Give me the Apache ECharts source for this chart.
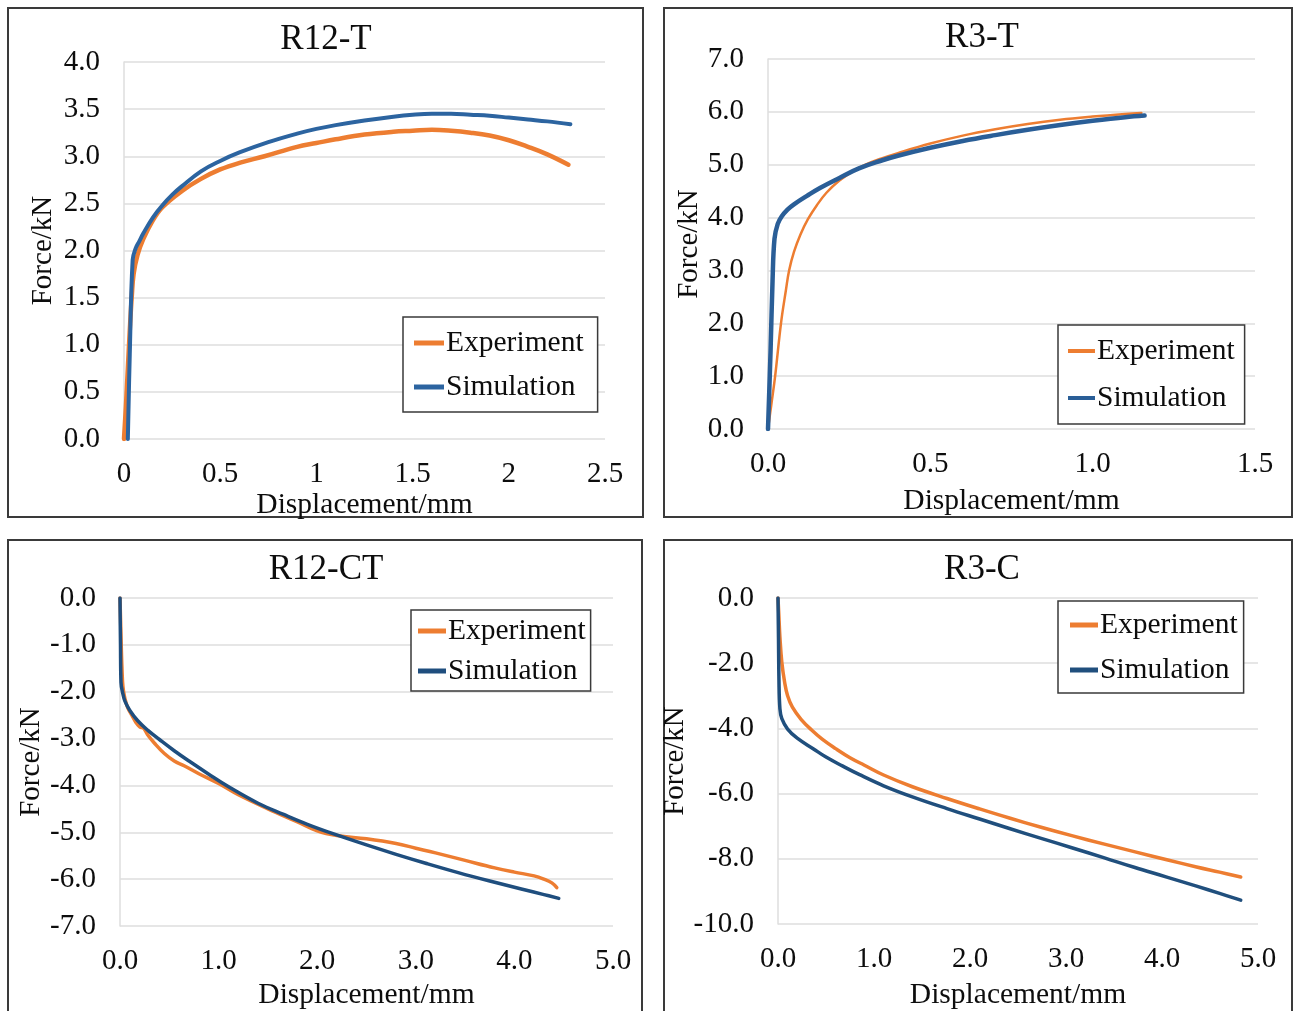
<!DOCTYPE html>
<html>
<head>
<meta charset="utf-8">
<script src="https://cdn.jsdelivr.net/npm/echarts@6/dist/echarts.min.js"></script>
<style>
  html, body { margin: 0; padding: 0; background: #fff; }
  #chart { width: 1299px; height: 1011px; }
</style>
</head>
<body>
<div id="chart"></div>
<script>
// ---- R12-T (tension, R12 notch) ----
const r12tExpX = [0, 0.01, 0.02, 0.03, 0.04, 0.05, 0.07, 0.1, 0.15, 0.2, 0.3, 0.4, 0.5, 0.6, 0.73, 0.9, 1.0, 1.1, 1.25, 1.4, 1.5, 1.6, 1.7, 1.8, 1.9, 2.0, 2.1, 2.2, 2.31];
const r12tExpY = [0, 0.35, 0.75, 1.15, 1.5, 1.75, 1.95, 2.12, 2.32, 2.46, 2.63, 2.76, 2.86, 2.93, 3.0, 3.1, 3.14, 3.18, 3.23, 3.26, 3.27, 3.28, 3.27, 3.25, 3.22, 3.17, 3.1, 3.02, 2.91];
const r12tSimX = [0.02, 0.03, 0.045, 0.06, 0.08, 0.1, 0.15, 0.2, 0.25, 0.3, 0.4, 0.5, 0.6, 0.75, 0.9, 1.0, 1.1, 1.25, 1.4, 1.5, 1.6, 1.7, 1.8, 1.9, 2.0, 2.1, 2.2, 2.32];
const r12tSimY = [0, 0.9, 1.9, 2.02, 2.1, 2.18, 2.35, 2.48, 2.59, 2.68, 2.84, 2.95, 3.04, 3.15, 3.24, 3.29, 3.33, 3.38, 3.42, 3.44, 3.45, 3.45, 3.44, 3.43, 3.41, 3.39, 3.37, 3.34];
const r12tXTicks = ['0', '0.5', '1', '1.5', '2', '2.5'];
const r12tYTicks = ['0.0', '0.5', '1.0', '1.5', '2.0', '2.5', '3.0', '3.5', '4.0'];

// ---- R3-T (tension, R3 notch) ----
const r3tExpX = [0, 0.01, 0.022, 0.04, 0.055, 0.065, 0.08, 0.1, 0.123, 0.15, 0.18, 0.22, 0.26, 0.3, 0.35, 0.4, 0.5, 0.6, 0.7, 0.8, 0.9, 1.0, 1.1, 1.15];
const r3tExpY = [0, 0.45, 1.0, 2.0, 2.62, 3.0, 3.35, 3.68, 3.97, 4.23, 4.47, 4.7, 4.87, 5.0, 5.12, 5.22, 5.4, 5.55, 5.67, 5.77, 5.85, 5.91, 5.96, 5.98];
const r3tSimX = [0, 0.008, 0.014, 0.02, 0.03, 0.042, 0.06, 0.08, 0.12, 0.16, 0.22, 0.28, 0.35, 0.4, 0.5, 0.6, 0.7, 0.8, 0.9, 1.0, 1.1, 1.16];
const r3tSimY = [0, 1.5, 2.8, 3.6, 3.88, 4.02, 4.15, 4.25, 4.41, 4.56, 4.75, 4.93, 5.08, 5.17, 5.32, 5.45, 5.56, 5.66, 5.75, 5.83, 5.9, 5.93];
const r3tXTicks = ['0.0', '0.5', '1.0', '1.5'];
const r3tYTicks = ['0.0', '1.0', '2.0', '3.0', '4.0', '5.0', '6.0', '7.0'];

// ---- R12-CT (compression-tension, R12 notch) ----
const r12ctExpX = [0, 0.01, 0.02, 0.03, 0.05, 0.08, 0.12, 0.16, 0.2, 0.24, 0.28, 0.35, 0.45, 0.55, 0.65, 0.8, 1.0, 1.2, 1.5, 1.8, 2.0, 2.2, 2.5, 2.8, 3.0, 3.2, 3.5, 3.8, 4.0, 4.2, 4.3, 4.38, 4.43];
const r12ctExpY = [0, -0.8, -1.5, -1.9, -2.15, -2.35, -2.5, -2.65, -2.75, -2.78, -2.92, -3.1, -3.32, -3.48, -3.58, -3.75, -3.96, -4.2, -4.5, -4.78, -4.97, -5.07, -5.14, -5.24, -5.34, -5.44, -5.6, -5.76, -5.85, -5.93, -6.0, -6.08, -6.18];
const r12ctSimX = [0, 0.005, 0.01, 0.03, 0.05, 0.1, 0.18, 0.28, 0.4, 0.55, 0.7, 0.9, 1.11, 1.4, 1.66, 1.9, 2.16, 2.5, 2.8, 3.1, 3.43, 3.75, 4.07, 4.3, 4.45];
const r12ctSimY = [0, -1.0, -1.8, -2.05, -2.2, -2.4, -2.62, -2.82, -3.02, -3.26, -3.48, -3.76, -4.04, -4.38, -4.62, -4.83, -5.03, -5.27, -5.47, -5.66, -5.86, -6.04, -6.21, -6.33, -6.41];
const r12ctXTicks = ['0.0', '1.0', '2.0', '3.0', '4.0', '5.0'];
const r12ctYTicks = ['-7.0', '-6.0', '-5.0', '-4.0', '-3.0', '-2.0', '-1.0', '0.0'];

// ---- R3-C (compression, R3 notch) ----
const r3cExpX = [0, 0.01, 0.02, 0.04, 0.07, 0.1, 0.15, 0.24, 0.35, 0.46, 0.6, 0.75, 0.9, 1.1, 1.4, 1.76, 2.1, 2.41, 2.75, 3.06, 3.4, 3.71, 4.05, 4.36, 4.6, 4.82];
const r3cExpY = [0, -0.6, -1.2, -1.98, -2.6, -3.0, -3.35, -3.72, -4.05, -4.33, -4.62, -4.9, -5.13, -5.43, -5.79, -6.15, -6.47, -6.75, -7.04, -7.29, -7.55, -7.78, -8.03, -8.25, -8.41, -8.56];
const r3cSimX = [0, 0.005, 0.01, 0.02, 0.04, 0.1, 0.2, 0.37, 0.5, 0.67, 0.85, 1.1, 1.4, 1.76, 2.1, 2.41, 2.75, 3.06, 3.4, 3.71, 4.05, 4.36, 4.6, 4.82];
const r3cSimY = [0, -1.2, -2.5, -3.4, -3.7, -4.02, -4.3, -4.63, -4.88, -5.15, -5.42, -5.76, -6.1, -6.46, -6.78, -7.07, -7.38, -7.66, -7.97, -8.26, -8.56, -8.84, -9.06, -9.27];
const r3cXTicks = ['0.0', '1.0', '2.0', '3.0', '4.0', '5.0'];
const r3cYTicks = ['-10.0', '-8.0', '-6.0', '-4.0', '-2.0', '0.0'];

const FONT = 'Liberation Serif';
const ORANGE = '#ED7D31';
const TEXT = '#0d0d0d';
const GRID_LINE = '#dedede';

const pairs = (xs, ys) => xs.map((x, i) => [x, ys[i]]);
const tickFmt = (labels, min, step) => v => labels[Math.round((v - min) / step)] ?? '';

// panel layout: plot rectangle in page pixels + axis options
const panels = [
  { title: 'R12-T', tx: 326, ty: 40, grid: { left: 124, right: 694, top: 62, bottom: 572 },
    x: { min: 0, max: 2.5, step: 0.5, labels: r12tXTicks, nameGap: 41 },
    y: { min: 0, max: 4, step: 0.5, labels: r12tYTicks, nameGap: 66 },
    exp: pairs(r12tExpX, r12tExpY), sim: pairs(r12tSimX, r12tSimY),
    expW: 4.5, simW: 4, blue: '#2C64A0',
    legend: { left: 403, top: 317, padding: [11, 14, 10, 11], itemGap: 14, itemWidth: 30 } },
  { title: 'R3-T', tx: 982, ty: 38, grid: { left: 768, right: 44, top: 59, bottom: 582 },
    x: { min: 0, max: 1.5, step: 0.5, labels: r3tXTicks, nameGap: 57 },
    y: { min: 0, max: 7, step: 1, labels: r3tYTicks, nameGap: 64 },
    exp: pairs(r3tExpX, r3tExpY), sim: pairs(r3tSimX, r3tSimY),
    expW: 2.5, simW: 4.5, blue: '#2A5E97',
    legend: { left: 1058, top: 325, padding: [11, 10, 11, 10], itemGap: 17, itemWidth: 27 } },
  { title: 'R12-CT', tx: 326, ty: 570, grid: { left: 120, right: 686, top: 598, bottom: 83 },
    x: { min: 0, max: 5, step: 1, labels: r12ctXTicks, nameGap: 54 },
    y: { min: -7, max: 0, step: 1, labels: r12ctYTicks, nameGap: 70 },
    exp: pairs(r12ctExpX, r12ctExpY), sim: pairs(r12ctSimX, r12ctSimY),
    expW: 3.5, simW: 3.5, blue: '#1F4E7E',
    legend: { left: 411, top: 610, padding: [6, 5, 5, 7], itemGap: 10, itemWidth: 28 } },
  { title: 'R3-C', tx: 982, ty: 570, grid: { left: 778, right: 41, top: 598, bottom: 85 },
    x: { min: 0, max: 5, step: 1, labels: r3cXTicks, nameGap: 56 },
    y: { min: -10, max: 0, step: 2, labels: r3cYTicks, nameGap: 72 },
    exp: pairs(r3cExpX, r3cExpY), sim: pairs(r3cSimX, r3cSimY),
    expW: 3.5, simW: 3.5, blue: '#204F7D',
    legend: { left: 1058, top: 601, padding: [9, 6, 8, 12], itemGap: 15, itemWidth: 28 } }
];

const grids = [], xAxes = [], yAxes = [], series = [], legends = [], graphics = [];

// panel frames
[[8, 8, 635, 509], [664, 8, 628, 509], [8, 540, 634, 490], [664, 540, 628, 490]].forEach(([x, y, w, h]) => {
  graphics.push({ type: 'rect', shape: { x, y, width: w, height: h },
    style: { fill: 'none', stroke: '#3a3a3a', lineWidth: 2 }, z: 0 });
});

panels.forEach((p, i) => {
  const g = p.grid;
  grids.push({ left: g.left, right: g.right, top: g.top, bottom: g.bottom, containLabel: false });
  xAxes.push({
    type: 'value', gridIndex: i, min: p.x.min, max: p.x.max, interval: p.x.step,
    name: 'Displacement/mm', nameLocation: 'middle', nameGap: p.x.nameGap,
    nameTextStyle: { fontFamily: FONT, fontSize: 29.5, color: TEXT },
    axisLine: { show: false }, axisTick: { show: false }, splitLine: { show: false },
    axisLabel: { fontFamily: FONT, fontSize: 29, color: TEXT, margin: 21,
      formatter: tickFmt(p.x.labels, p.x.min, p.x.step) }
  });
  yAxes.push({
    type: 'value', gridIndex: i, min: p.y.min, max: p.y.max, interval: p.y.step,
    name: 'Force/kN', nameLocation: 'middle', nameGap: p.y.nameGap, nameRotate: 90,
    nameTextStyle: { fontFamily: FONT, fontSize: 29, color: TEXT },
    axisLine: { show: true, onZero: false, lineStyle: { color: GRID_LINE, width: 1.5 } },
    axisTick: { show: false },
    splitLine: { show: true, lineStyle: { color: GRID_LINE, width: 1.5 } },
    axisLabel: { fontFamily: FONT, fontSize: 29, color: TEXT, margin: 24,
      formatter: tickFmt(p.y.labels, p.y.min, p.y.step) }
  });
  const lineOpts = { type: 'line', xAxisIndex: i, yAxisIndex: i, showSymbol: false,
    smooth: 0.4, animation: false };
  series.push(Object.assign({}, lineOpts, { name: 'Experiment', data: p.exp, z: 3,
    lineStyle: { color: ORANGE, width: p.expW, cap: 'round', join: 'round' }, itemStyle: { color: ORANGE } }));
  series.push(Object.assign({}, lineOpts, { name: 'Simulation', data: p.sim, z: 4,
    lineStyle: { color: p.blue, width: p.simW, cap: 'round', join: 'round' }, itemStyle: { color: p.blue } }));
  legends.push({
    orient: 'vertical', left: p.legend.left, top: p.legend.top, padding: p.legend.padding,
    itemGap: p.legend.itemGap, itemWidth: p.legend.itemWidth, itemHeight: i === 1 ? 4 : 5,
    icon: 'rect', selectedMode: false, backgroundColor: '#fff',
    borderColor: '#3a3a3a', borderWidth: 1.5, z: 10,
    textStyle: { fontFamily: FONT, fontSize: 29.5, color: TEXT, padding: [0, 0, 0, -3] },
    data: [
      { name: 'Experiment', itemStyle: { color: ORANGE } },
      { name: 'Simulation', itemStyle: { color: p.blue } }
    ]
  });
  graphics.push({ type: 'text', x: p.tx, y: p.ty, z: 5,
    style: { text: p.title, fontFamily: FONT, fontSize: 35, fill: TEXT, align: 'center', verticalAlign: 'middle' } });
});

const chart = echarts.init(document.getElementById('chart'), null, { renderer: 'canvas' });
chart.setOption({
  animation: false,
  backgroundColor: '#fff',
  grid: grids, xAxis: xAxes, yAxis: yAxes, series, legend: legends,
  graphic: { elements: graphics }
});
</script>
</body>
</html>
